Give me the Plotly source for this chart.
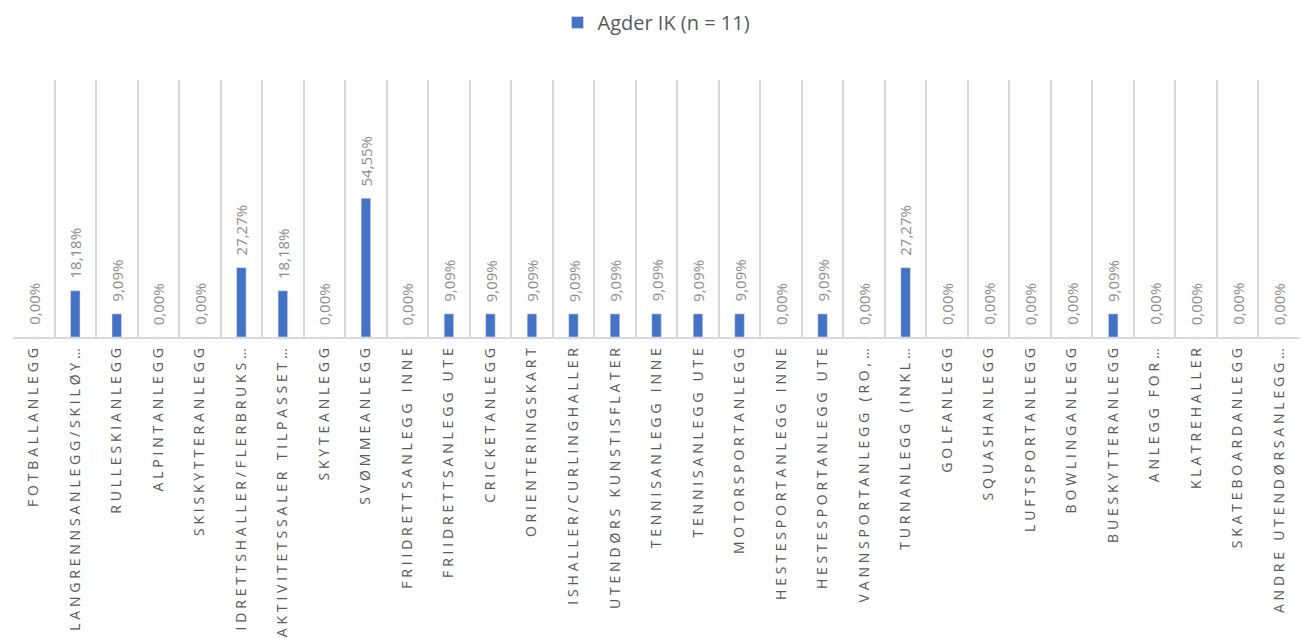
import plotly.graph_objects as go

categories = [
    "FOTBALLANLEGG", "LANGRENNSANLEGG/SKILØY…", "RULLESKIANLEGG", "ALPINTANLEGG",
    "SKISKYTTERANLEGG", "IDRETTSHALLER/FLERBRUKS…", "AKTIVITETSSALER TILPASSET…",
    "SKYTEANLEGG", "SVØMMEANLEGG", "FRIIDRETTSANLEGG INNE", "FRIIDRETTSANLEGG UTE",
    "CRICKETANLEGG", "ORIENTERINGSKART", "ISHALLER/CURLINGHALLER", "UTENDØRS KUNSTISFLATER",
    "TENNISANLEGG INNE", "TENNISANLEGG UTE", "MOTORSPORTANLEGG", "HESTESPORTANLEGG INNE",
    "HESTESPORTANLEGG UTE", "VANNSPORTANLEGG (RO,…", "TURNANLEGG (INKL…", "GOLFANLEGG",
    "SQUASHANLEGG", "LUFTSPORTANLEGG", "BOWLINGANLEGG", "BUESKYTTERANLEGG", "ANLEGG FOR…",
    "KLATREHALLER", "SKATEBOARDANLEGG", "ANDRE UTENDØRSANLEGG…",
]
values = [
    0.0, 0.1818, 0.0909, 0.0, 0.0, 0.2727, 0.1818, 0.0, 0.5455, 0.0, 0.0909,
    0.0909, 0.0909, 0.0909, 0.0909, 0.0909, 0.0909, 0.0909, 0.0, 0.0909, 0.0,
    0.2727, 0.0, 0.0, 0.0, 0.0, 0.0909, 0.0, 0.0, 0.0, 0.0,
]
series_name = "Agder IK (n = 11)"

fig = go.Figure(
    go.Bar(
        x=categories,
        y=values,
        name=series_name,
        marker_color="#4472C4",
        showlegend=True,
    )
)

for cat, val in zip(categories, values):
    fig.add_annotation(
        x=cat,
        y=val,
        text=f"{val * 100:.2f}%".replace(".", ","),
        textangle=-90,
        showarrow=False,
        xanchor="center",
        yanchor="bottom",
        yshift=10,
        font=dict(color="#8C8C8C", size=15, family="Open Sans, sans-serif"),
    )

fig.update_layout(
    width=1310,
    height=638,
    margin=dict(l=5, r=18, t=72, b=309, autoexpand=False),
    paper_bgcolor="white",
    plot_bgcolor="white",
    separators=",.",
    bargap=0.77,
    font=dict(family="Open Sans, sans-serif", color="#595959"),
    legend=dict(
        orientation="h",
        x=0.5,
        xanchor="center",
        y=1.30,
        yanchor="top",
        itemwidth=30,
        font=dict(size=20, color="#595959"),
    ),
)
fig.update_xaxes(
    type="category",
    tickson="boundaries",
    showgrid=True,
    gridcolor="#D9D9D9",
    gridwidth=1.5,
    showline=True,
    linecolor="#D9D9D9",
    linewidth=1.5,
    ticks="",
    tickangle=-90,
    automargin=False,
    tickfont=dict(size=14, color="#595959"),
)
fig.update_yaxes(
    range=[0, 1.01],
    showgrid=False,
    showticklabels=False,
    zeroline=False,
    showline=False,
)

post = (
    "document.querySelectorAll('.xtick text').forEach(function(t){"
    "t.setAttribute('letter-spacing','3.8px');});"
)
fig.write_html("out.html", post_script=post)
